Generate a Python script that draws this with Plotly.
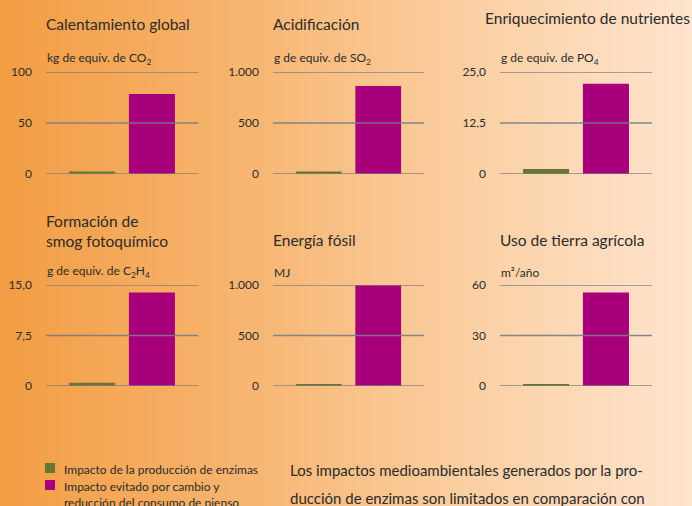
import base64
import struct
import zlib

import plotly.graph_objects as go

# data
titles = [
    "Calentamiento global", "Acidificación", "Enriquecimiento de nutrientes",
    "Formación de<br>smog fotoquímico", "Energía fósil", "Uso de tierra agrícola",
]
units = [
    "kg de equiv. de CO<sub>2</sub>", "g de equiv. de SO<sub>2</sub>",
    "g de equiv. de PO<sub>4</sub>", "g de equiv. de C<sub>2</sub>H<sub>4</sub>",
    "MJ", "m²/año",
]
produccion = [2.5, 25, 1.2, 0.5, 20, 1.0]
evitado = [78.5, 863, 22.1, 13.9, 1000, 55.5]
y_max = [100, 1000, 25, 15, 1000, 60]
tick_vals = [[0, 50, 100], [0, 500, 1000], [0, 12.5, 25], [0, 7.5, 15], [0, 500, 1000], [0, 30, 60]]
tick_text = [["0", "50", "100"], ["0", "500", "1.000"], ["0", "12,5", "25,0"],
             ["0", "7,5", "15,0"], ["0", "500", "1.000"], ["0", "30", "60"]]
series_names = ["Impacto de la producción de enzimas",
                "Impacto evitado por cambio y<br>reducción del consumo de pienso"]
paragraph = ["Los impactos medioambientales generados por la pro-",
             "ducción de enzimas son limitados en comparación con"]

GREEN = "#6b7533"
MAGENTA = "#a8007a"
GRID = "rgba(118,124,136,0.9)"
TEXT = "#2b2b2b"
FONT = "Lato"
W, H = 692, 506


def gradient_png(stops, width=256, height=2):
    """Horizontal gradient as a tiny PNG data uri."""
    row = bytearray([0])
    for i in range(width):
        t = i / (width - 1)
        for (t0, c0), (t1, c1) in zip(stops[:-1], stops[1:]):
            if t0 <= t <= t1:
                f = (t - t0) / (t1 - t0)
                row += bytes(int(round(a + (b - a) * f)) for a, b in zip(c0, c1))
                break
    raw = bytes(row) * height

    def chunk(tag, data):
        return struct.pack(">I", len(data)) + tag + data + struct.pack(">I", zlib.crc32(tag + data) & 0xffffffff)

    png = b"\x89PNG\r\n\x1a\n"
    png += chunk(b"IHDR", struct.pack(">IIBBBBB", width, height, 8, 2, 0, 0, 0))
    png += chunk(b"IDAT", zlib.compress(raw))
    png += chunk(b"IEND", b"")
    return "data:image/png;base64," + base64.b64encode(png).decode()


bg = gradient_png([(0.0, (243, 157, 68)), (0.35, (247, 181, 112)),
                   (0.66, (251, 206, 160)), (1.0, (254, 228, 206))])

col_px = [(46, 198), (273, 424), (500, 652)]
row_px = [(72, 174), (285, 386)]

fig = go.Figure()
shapes, annotations = [], []

for i in range(6):
    r, c = divmod(i, 3)
    n = "" if i == 0 else str(i + 1)
    x0, x1 = col_px[c]
    y0, y1 = row_px[r]
    fig.add_trace(go.Bar(
        x=[0], y=[produccion[i]], width=0.77, marker=dict(color=GREEN, line_width=0),
        name=series_names[0], showlegend=False,
        xaxis="x" + n, yaxis="y" + n, hoverinfo="skip",
    ))
    fig.add_trace(go.Bar(
        x=[1], y=[evitado[i]], width=0.77, marker=dict(color=MAGENTA, line_width=0),
        name=series_names[1], showlegend=False,
        xaxis="x" + n, yaxis="y" + n, hoverinfo="skip",
    ))
    fig.layout["xaxis" + n] = dict(
        domain=[x0 / W, x1 / W], range=[-0.77, 1.77], visible=False, fixedrange=True,
        anchor="y" + n,
    )
    fig.layout["yaxis" + n] = dict(
        domain=[1 - y1 / H, 1 - y0 / H], range=[0, y_max[i]], anchor="x" + n,
        tickvals=tick_vals[i], ticktext=tick_text[i], showgrid=False, zeroline=False,
        showline=False, ticks="", ticklabelstandoff=13, automargin=False,
        tickfont=dict(family=FONT, size=12, color=TEXT), fixedrange=True,
    )
    for v in tick_vals[i]:
        shapes.append(dict(
            type="line", xref="x" + n + " domain", yref="y" + n, x0=0, x1=1, y0=v, y1=v,
            line=dict(color=GRID, width=1.5), layer="above",
        ))
    annotations.append(dict(
        text=units[i], xref="x" + n + " domain", yref="y" + n + " domain", x=0, y=1,
        xanchor="left", yanchor="bottom", yshift=3, xshift=-1, showarrow=False,
        font=dict(family=FONT, size=12, color=TEXT),
    ))
    # panel title
    if i == 2:
        tx, ty = 485, 18
    elif i == 3:
        tx, ty = x0, 231
    else:
        tx, ty = x0, 24 if r == 0 else 240
    annotations.append(dict(
        text=titles[i], xref="paper", yref="paper", x=tx / W, y=1 - ty / H,
        xanchor="left", yanchor="middle", align="left", showarrow=False, xshift=-2,
        font=dict(family=FONT, size=15.5, color=TEXT),
    ))

# legend drawn by hand so the swatches sit like the printed key
for k, (name, color) in enumerate(zip(series_names, [GREEN, MAGENTA])):
    yc = 468 + 17 * k
    shapes.append(dict(
        type="rect", xref="paper", yref="paper", x0=45 / W, x1=55 / W,
        y0=1 - (yc + 5) / H, y1=1 - (yc - 5) / H, fillcolor=color, line_width=0,
    ))
    annotations.append(dict(
        text=name, xref="paper", yref="paper", x=62 / W, y=1 - (yc - 8) / H,
        xanchor="left", yanchor="top", align="left", showarrow=False,
        font=dict(family=FONT, size=12, color=TEXT),
    ))

for k, line in enumerate(paragraph):
    annotations.append(dict(
        text=line, xref="paper", yref="paper", x=288 / W, y=1 - (470 + 28 * k) / H,
        xanchor="left", yanchor="middle", showarrow=False,
        font=dict(family=FONT, size=15, color=TEXT),
    ))

fig.update_layout(
    width=W, height=H,
    margin=dict(l=0, r=0, t=0, b=0, pad=0, autoexpand=False),
    paper_bgcolor="#f8bd80",
    plot_bgcolor="rgba(0,0,0,0)",
    images=[dict(source=bg, xref="paper", yref="paper", x=0, y=1, sizex=1, sizey=1,
                 xanchor="left", yanchor="top", sizing="stretch", layer="below")],
    shapes=shapes,
    annotations=annotations,
    showlegend=False,
    barmode="overlay",
)

fig.write_html(
    "out.html",
    config={"displayModeBar": False},
    post_script="document.body.style.margin='0';",
)
